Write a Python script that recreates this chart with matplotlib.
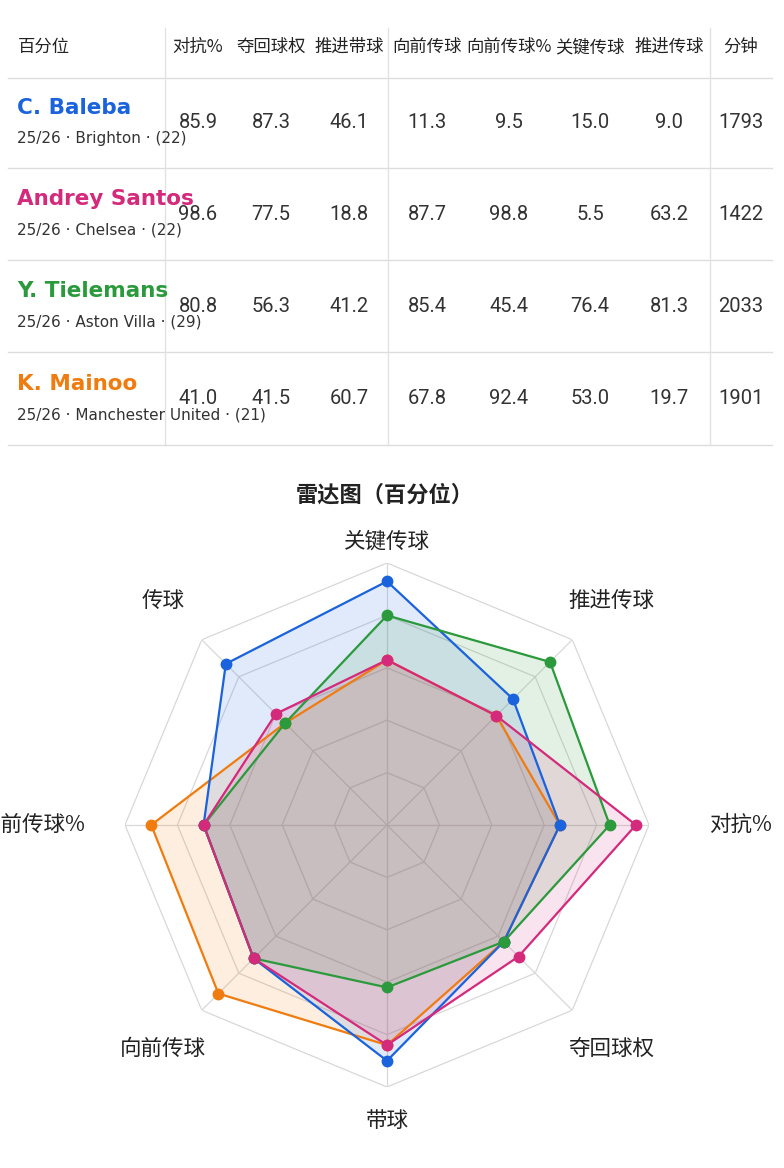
import matplotlib
matplotlib.use("Agg")
import matplotlib.pyplot as plt
import numpy as np

plt.rcParams['font.family'] = ['Noto Sans CJK SC', 'DejaVu Sans']

headers = ["百分位", "对抗%", "夺回球权", "推进带球", "向前传球", "向前传球%", "关键传球", "推进传球", "分钟"]
players = ["C. Baleba", "Andrey Santos", "Y. Tielemans", "K. Mainoo"]
subs = ["25/26 · Brighton · (22)", "25/26 · Chelsea · (22)", "25/26 · Aston Villa · (29)", "25/26 · Manchester United · (21)"]
table_vals = [
    ["85.9", "87.3", "46.1", "11.3", "9.5", "15.0", "9.0", "1793"],
    ["98.6", "77.5", "18.8", "87.7", "98.8", "5.5", "63.2", "1422"],
    ["80.8", "56.3", "41.2", "85.4", "45.4", "76.4", "81.3", "2033"],
    ["41.0", "41.5", "60.7", "67.8", "92.4", "53.0", "19.7", "1901"],
]
colors = ["#1a63dc", "#d42a7c", "#2b9a3c", "#f07c10"]

radar_axes = ["关键传球", "推进传球", "对抗%", "夺回球权", "带球", "向前传球", "向前传球%", "传球"]
radar_vals = [
    [93, 68, 66, 63, 90, 72, 70, 87],   # Baleba
    [63, 59, 95, 71, 84, 72, 70, 60],   # Santos
    [80, 88, 85, 63, 62, 72, 70, 55],   # Tielemans
    [63, 59, 66, 63, 84, 91, 90, 55],   # Mainoo
]
ring_levels = [20, 40, 60, 80, 100]

W, H = 784, 1168
fig = plt.figure(figsize=(W/100, H/100), dpi=100)

# ---- table ----
tax = fig.add_axes([0, 0, 1, 1])
tax.set_xlim(0, W); tax.set_ylim(H, 0); tax.axis('off')
col_x = [18, 198, 271, 349, 427, 509, 590, 669, 741]
row_lines = [78, 168, 260, 352, 445]
for y in row_lines:
    tax.plot([8, 772], [y, y], color="#dddddd", lw=1)
for x in [165, 388, 710]:
    tax.plot([x, x], [28, 445], color="#e2e2e2", lw=1)
for i, h in enumerate(headers):
    tax.text(col_x[i], 47, h, ha='left' if i == 0 else 'center', va='center', fontsize=12.5, color="#222222")
for r in range(4):
    yc = (row_lines[r] + row_lines[r+1]) / 2
    tax.text(17, yc - 15, players[r], ha='left', va='center', fontsize=15.5, fontweight='bold', color=colors[r],
             family=['Liberation Sans Narrow', 'DejaVu Sans'])
    tax.text(17, yc + 16, subs[r], ha='left', va='center', fontsize=11, color="#333333",
             family=['Liberation Sans Narrow', 'DejaVu Sans'])
    for c, v in enumerate(table_vals[r]):
        tax.text(col_x[c+1], yc, v, ha='center', va='center', fontsize=14.5, color="#333333",
                 family=['Roboto', 'DejaVu Sans'])

tax.text(385, 495, "雷达图（百分位）", ha='center', va='center', fontsize=16, fontweight='bold', color="#222222")

# ---- radar ----
cx, cy, R = 387, 825, 262
ax = fig.add_axes([(cx-R)/W, (H-cy-R)/H, 2*R/W, 2*R/H], projection='polar')
ax.set_theta_zero_location('N'); ax.set_theta_direction(-1)
ax.set_ylim(0, 100)
n = len(radar_axes)
theta = np.arange(n) * 2*np.pi/n
tc = np.append(theta, theta[0])
ax.grid(False); ax.set_xticks([]); ax.set_yticks([])
ax.spines['polar'].set_visible(False)
for lv in ring_levels:
    ax.plot(tc, [lv]*(n+1), color="#d8d8d8", lw=0.9, zorder=1)
for t in theta:
    ax.plot([t, t], [0, 100], color="#d8d8d8", lw=0.9, zorder=1)
order = [3, 0, 2, 1]
for k in order:
    v = radar_vals[k] + [radar_vals[k][0]]
    ax.fill(tc, v, color=colors[k], alpha=0.13, zorder=2)
for k in order:
    v = radar_vals[k] + [radar_vals[k][0]]
    ax.plot(tc, v, color=colors[k], lw=1.6, zorder=3)
    ax.plot(theta, radar_vals[k], 'o', color=colors[k], ms=7.5, zorder=4)
lab_r = [108, 121, 135, 121, 113, 121, 135, 121]
for t, lab, lr in zip(theta, radar_axes, lab_r):
    ax.text(t, lr, lab, ha='center', va='center', fontsize=15.5, color="#222222")

fig.savefig("out.png", dpi=100)
